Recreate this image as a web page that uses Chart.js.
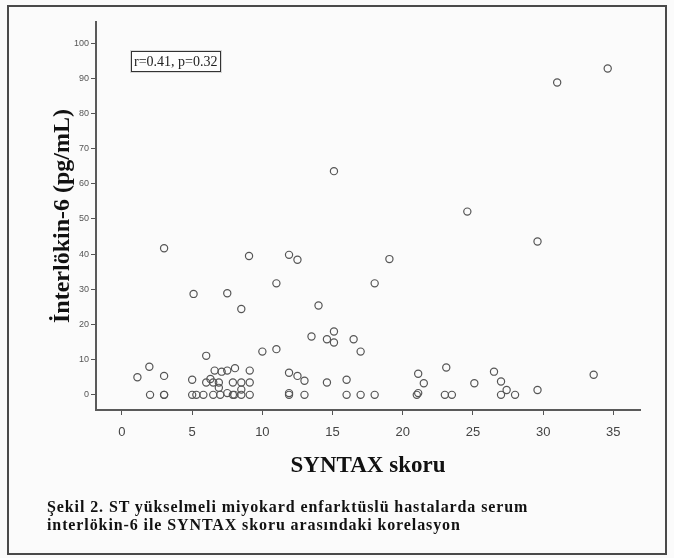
<!DOCTYPE html>
<html>
<head>
<meta charset="utf-8">
<title>İnterlökin-6 ve SYNTAX skoru</title>
<script src="https://cdn.jsdelivr.net/npm/chart.js@4.4.1/dist/chart.umd.min.js"></script>
<style>
  body { margin: 0; background: #fff; }
  #wrap { position: relative; width: 674px; height: 558px; background: #fbfbfb; overflow: hidden; }
  #frame { position: absolute; left: 7px; top: 5px; width: 660px; height: 550px; border: 2px solid #4a4a4a; box-sizing: border-box; pointer-events: none; }
  #chart { position: absolute; left: 0; top: 0; }
  #caption { position: absolute; left: 47px; top: 498px; font: bold 16px "Liberation Serif", serif; letter-spacing: 0.9px; line-height: 18px; color: #111; white-space: nowrap; }
</style>
</head>
<body>
<div id="wrap">
  <canvas id="chart" width="674" height="558"></canvas>
  <div id="frame"></div>
  <div id="caption">Şekil 2. ST yükselmeli miyokard enfarktüslü hastalarda serum<br>interlökin-6 ile SYNTAX skoru arasındaki korelasyon</div>
</div>
<script>
// SYNTAX score (x) and interleukin-6 (y) for each patient
const syntaxScores = [
  34.6, 31.0, 15.1, 24.6, 29.6, 3.0, 9.05, 11.9, 12.5, 19.05,
  11.0, 18.0, 5.1, 7.5, 8.5, 14.0, 13.5, 14.6, 15.1, 15.1,
  16.5, 17.0, 10.0, 11.0, 6.0, 1.1, 1.95, 3.0, 2.0, 3.0,
  3.0, 5.0, 5.0, 5.3, 5.8, 6.5, 6.0, 6.5, 6.9, 6.6,
  7.1, 7.5, 8.05, 7.9, 8.5, 9.1, 7.9, 8.0, 8.5, 9.1,
  9.1, 6.9, 7.5, 11.9, 12.5, 13.0, 11.9, 11.9, 13.0, 14.6,
  16.0, 16.0, 17.0, 18.0, 21.1, 21.5, 21.1, 21.0, 23.1, 23.0,
  23.5, 25.1, 26.5, 27.0, 27.4, 27.0, 28.0, 29.6, 33.6, 8.5,
  6.3, 7.0
];
const il6Values = [
  92.8, 88.8, 63.6, 52.1, 43.6, 41.7, 39.5, 39.8, 38.4, 38.6,
  31.7, 31.7, 28.7, 28.9, 24.4, 25.4, 16.6, 15.8, 18.0, 14.9,
  15.8, 12.3, 12.3, 13.0, 11.1, 5.0, 8.0, 5.4, 0, 0,
  0, 4.3, 0, 0, 0, 0, 3.5, 3.5, 3.5, 6.9,
  6.6, 6.9, 7.6, 3.5, 3.5, 3.5, 0, 0, 0, 0,
  6.9, 2.0, 0.5, 6.3, 5.4, 4.0, 0.5, 0, 0, 3.5,
  4.3, 0, 0, 0, 6.0, 3.3, 0.5, 0, 7.8, 0,
  0, 3.3, 6.6, 3.8, 1.4, 0, 0, 1.4, 5.7, 1.5,
  4.5, 0
];
const xTicks = [0, 5, 10, 15, 20, 25, 30, 35];
const yTicks = [0, 10, 20, 30, 40, 50, 60, 70, 80, 90, 100];
const statsText = 'r=0.41, p=0.32';

const points = syntaxScores.map((x, i) => ({ x: x, y: il6Values[i] }));

// Draws the correlation label box in the upper left of the plot
const statsBox = {
  id: 'statsBox',
  afterDraw(chart) {
    const ctx = chart.ctx;
    const x = chart.chartArea.left + 35;
    const y = 51;
    ctx.save();
    ctx.font = '14px "Liberation Serif"';
    const w = Math.round(ctx.measureText(statsText).width) + 6;
    const h = 20;
    ctx.fillStyle = '#d8d8d8';
    ctx.fillRect(x - 1, y - 1, w + 3, h + 3);
    ctx.fillStyle = '#fdfdfd';
    ctx.fillRect(x + 1, y + 1, w - 1, h - 1);
    ctx.strokeStyle = '#333';
    ctx.lineWidth = 1;
    ctx.strokeRect(x + 0.5, y + 0.5, w, h);
    ctx.fillStyle = '#222';
    ctx.textBaseline = 'middle';
    ctx.fillText(statsText, x + 3, y + h / 2 + 1);
    ctx.restore();
  }
};

new Chart(document.getElementById('chart'), {
  type: 'scatter',
  data: {
    datasets: [{
      data: points,
      pointStyle: 'circle',
      pointRadius: 3.6,
      borderColor: '#555',
      borderWidth: 1.2,
      backgroundColor: 'rgba(0,0,0,0)'
    }]
  },
  options: {
    responsive: false,
    devicePixelRatio: 1,
    animation: false,
    layout: { padding: { left: 0, top: 22, right: 34, bottom: 78 } },
    plugins: { legend: { display: false }, tooltip: { enabled: false } },
    scales: {
      x: {
        type: 'linear',
        min: -1.85,
        max: 36.9,
        afterBuildTicks: s => { s.ticks = xTicks.map(v => ({ value: v })); },
        afterFit: s => { s.height = 70; },
        grid: { drawOnChartArea: false, tickLength: 5, color: '#555' },
        border: { color: '#5a5a5a', width: 2 },
        ticks: { font: { family: 'Liberation Sans', size: 13 }, color: '#444', padding: 10, maxRotation: 0 },
        title: {
          display: true,
          text: 'SYNTAX skoru',
          color: '#111',
          font: { family: 'Liberation Serif', size: 23, weight: 'bold' },
          padding: { top: 0, bottom: 0 }
        }
      },
      y: {
        type: 'linear',
        min: -4.3,
        max: 106,
        afterBuildTicks: s => { s.ticks = yTicks.map(v => ({ value: v })); },
        afterFit: s => { s.width = 96; },
        grid: { drawOnChartArea: false, tickLength: 5, color: '#555' },
        border: { color: '#5a5a5a', width: 2 },
        ticks: { font: { family: 'Liberation Sans', size: 9 }, color: '#555', padding: 2 },
        title: {
          display: true,
          text: 'İnterlökin-6 (pg/mL)',
          color: '#111',
          font: { family: 'Liberation Serif', size: 24, weight: 'bold' },
          padding: { top: 48, bottom: 0 }
        }
      }
    }
  },
  plugins: [statsBox]
});
</script>
</body>
</html>
